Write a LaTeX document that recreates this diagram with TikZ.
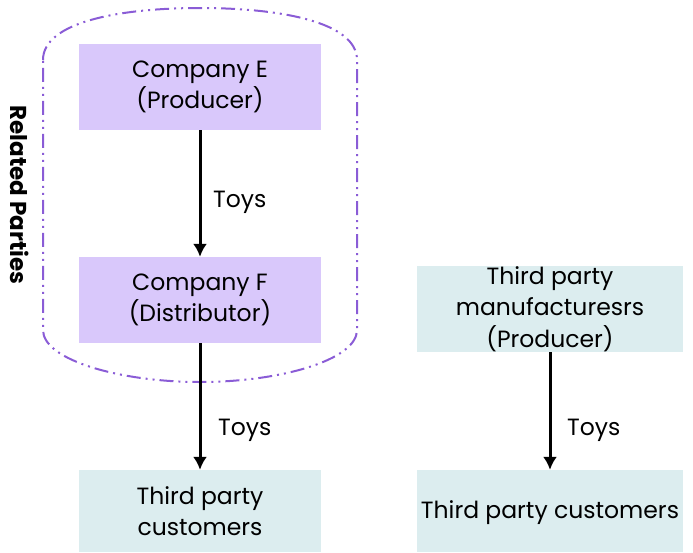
\documentclass[tikz,border=0pt]{standalone}
\usepackage{fontspec}
\setmainfont{Poppins}
\usetikzlibrary{arrows.meta}
\begin{document}
\begin{tikzpicture}[x=1pt,y=-1pt,
  purplebox/.style={fill=purpfill,minimum width=242pt,minimum height=86pt,inner sep=0pt,align=center,font=\fontsize{23.5}{31.5}\selectfont},
  tealbox/.style={fill=tealfill,minimum width=242pt,minimum height=86pt,inner sep=0pt,align=center,font=\fontsize{23.5}{31.5}\selectfont},
  flow/.style={draw=black,line width=3pt,-{Latex[length=13pt,width=14pt]}},
  lbl/.style={font=\fontsize{23.5}{28}\selectfont,anchor=west,inner sep=0pt}]
\definecolor{purpfill}{HTML}{D9C8FB}
\definecolor{tealfill}{HTML}{DCEDEF}
\definecolor{purpline}{HTML}{8A5CD6}
\useasboundingbox (0,0) rectangle (693,552);
\draw[purpline,line width=2pt,dash pattern=on 14pt off 5pt on 2pt off 5pt on 2pt off 5pt]
  (43,60) .. controls (43,22) and (120,8) .. (200,8)
  .. controls (280,8) and (357,22) .. (357,60)
  -- (357,330) .. controls (357,360) and (280,382) .. (200,382)
  .. controls (120,382) and (43,360) .. (43,330) -- cycle;
\node[purplebox] (e) at (200,87) {Company E\\(Producer)};
\node[purplebox] (f) at (200,300) {Company F\\(Distributor)};
\node[tealbox,minimum height=82pt] (c1) at (200,511) {Third party\\customers};
\node[tealbox,minimum width=266pt] (m) at (550,309) {Third party\\manufacturesrs\\(Producer)};
\node[tealbox,minimum width=266pt,minimum height=82pt,text height=21pt] (c2) at (550,511) {Third party customers};
\node[font=\fontsize{23}{26}\selectfont\bfseries,rotate=-90] (rp) at (20,195) {Related Parties};
\draw[flow] (e.south) -- (f.north);
\draw[flow] (f.south) -- (c1.north);
\draw[flow] (m.south) -- (c2.north);
\node[lbl] (t1) at (213,202) {Toys};
\node[lbl] (t2) at (218,430) {Toys};
\node[lbl] (t3) at (567,430) {Toys};
\end{tikzpicture}
\end{document}
